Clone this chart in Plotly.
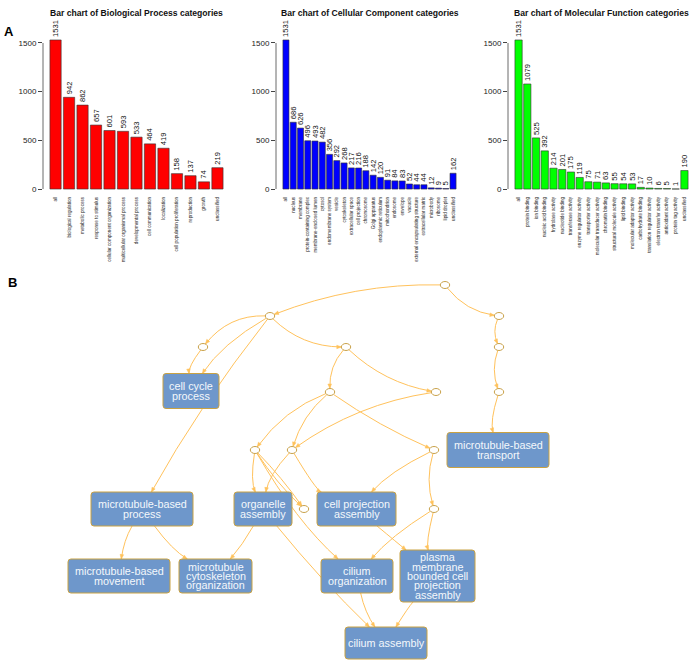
import math
import plotly.graph_objects as go

W, H = 697, 660

# ---- panel A: GO slim counts ----
bp_cats = ["all", "biological regulation", "metabolic process", "response to stimulus",
           "cellular component organization", "multicellular organismal process",
           "developmental process", "cell communication", "localization",
           "cell population proliferation", "reproduction", "growth", "unclassified"]
bp_vals = [1531, 942, 862, 657, 601, 593, 533, 464, 419, 158, 137, 74, 219]

cc_cats = ["all", "nucleus", "membrane", "protein-containing complex", "membrane-enclosed lumen",
           "cytosol", "endomembrane system", "vesicle", "cytoskeleton", "extracellular space",
           "cell projection", "chromosome", "Golgi apparatus", "endoplasmic reticulum",
           "mitochondrion", "endosome", "envelope", "vacuole",
           "external encapsulating structure", "extracellular matrix", "microbody",
           "ribosome", "lipid droplet", "unclassified"]
cc_vals = [1531, 686, 626, 496, 493, 482, 356, 292, 268, 217, 216, 188, 142, 120,
           91, 84, 83, 52, 44, 44, 12, 9, 5, 162]

mf_cats = ["all", "protein binding", "ion binding", "nucleic acid binding", "hydrolase activity",
           "nucleotide binding", "transferase activity", "enzyme regulator activity",
           "transporter activity", "molecular transducer activity", "chromatin binding",
           "structural molecule activity", "lipid binding", "molecular adaptor activity",
           "carbohydrate binding", "translation regulator activity",
           "electron transfer activity", "antioxidant activity", "protein tag activity",
           "unclassified"]
mf_vals = [1531, 1079, 525, 392, 214, 201, 175, 119, 75, 71, 63, 55, 54, 53, 17, 10, 6, 5, 1, 190]

# ---- panel B: GO term graph ----
node_labels = {
    "cc_proc": "cell cycle\nprocess",
    "mt_transport": "microtubule-based\ntransport",
    "mt_process": "microtubule-based\nprocess",
    "org_asm": "organelle\nassembly",
    "cp_asm": "cell projection\nassembly",
    "mt_move": "microtubule-based\nmovement",
    "mt_cyto": "microtubule\ncytoskeleton\norganization",
    "cil_org": "cilium\norganization",
    "pm_asm": "plasma\nmembrane\nbounded cell\nprojection\nassembly",
    "cil_asm": "cilium assembly",
}
edge_src = ["n0", "n0", "n4", "n5", "n8", "n1", "n2", "n1", "n1", "n1", "n3", "n3",
            "n6", "n6", "n6", "n7", "n11", "n11", "n9", "n10", "n10", "n9", "n9", "n9",
            "org_asm", "org_asm", "cil_org", "pm_asm", "n13", "n13", "cp_asm",
            "mt_process", "mt_process"]
edge_dst = ["n1", "n4", "n5", "n8", "mt_transport", "n2", "cc_proc", "cc_proc", "mt_process",
            "n3", "n6", "n7", "n9", "n10", "n11", "n10", "cp_asm", "n13", "org_asm",
            "org_asm", "cp_asm", "n12", "n12", "cil_org", "mt_cyto", "cil_asm", "cil_asm",
            "cil_asm", "cil_org", "pm_asm", "pm_asm", "mt_move", "mt_cyto"]

# layout of the graph drawing (page pixels), node sizes and edge bends
pos = {
    "n0": (445, 285), "n1": (270, 316), "n2": (203, 347), "n3": (346, 347),
    "n4": (499, 316), "n5": (499, 347), "n6": (330, 392), "n7": (436, 392),
    "n8": (499, 392), "n9": (255, 450), "n10": (292, 450), "n11": (434, 450),
    "n12": (304, 509), "n13": (434, 509),
    "cc_proc": (191, 391), "mt_transport": (498, 450), "mt_process": (142, 509),
    "org_asm": (263, 509), "cp_asm": (356.5, 509), "mt_move": (119, 576),
    "mt_cyto": (215.5, 576), "cil_org": (357, 576), "pm_asm": (437.5, 576),
    "cil_asm": (386, 643),
}
box_size = {
    "cc_proc": (56, 35), "mt_transport": (102, 35), "mt_process": (102, 34),
    "org_asm": (58, 34), "cp_asm": (79, 34), "mt_move": (102, 34), "mt_cyto": (73, 34),
    "cil_org": (72, 34), "pm_asm": (75, 52), "cil_asm": (82, 32),
}
edge_bend = [0.10, 0.20, 0.22, 0.18, 0.15, 0.25, 0.20, 0.12, 0.04, 0.20, 0.20, 0.15,
             0.15, 0.15, 0.05, 0.12, 0.10, 0.15, 0.15, 0.15, 0.15, 0.06, -0.04, 0.08,
             -0.05, 0.03, 0.10, 0.05, 0.08, 0.15, 0.0, 0.10, 0.10]

ERX, ERY = 4.7, 3.5
EDGE = "#FFC25C"
ELL_LINE = "#C9A24B"
BOX_FILL = "#6E97CB"
BOX_LINE = "#C9A243"
FONT = "Liberation Sans, Arial, sans-serif"
LINE_STEP = 9.3

fig = go.Figure()

# ---- bar panels ----
panels = [
    (bp_cats, bp_vals, "#FF0000", "Bar chart of Biological Process categories", 43),
    (cc_cats, cc_vals, "#0000FF", "Bar chart of Cellular Component categories", 276),
    (mf_cats, mf_vals, "#00FF00", "Bar chart of Molecular Function categories", 508),
]
plot_w = 187
y_dom = [1 - 195 / H, 1 - 34 / H]
shapes = []
annotations = []
for i, (cats, vals, col, title, left) in enumerate(panels):
    k = "" if i == 0 else str(i + 1)
    n = len(cats)
    span = n - 1 + 1 / 1.2
    pad = 0.04 * span
    half = 0.5 / 1.2
    fig.add_trace(go.Bar(
        x=cats, y=vals, xaxis="x" + k, yaxis="y" + k,
        marker=dict(color=col, line=dict(color="#333333", width=0.6)),
        text=vals, textposition="outside", textangle=-90,
        textfont=dict(size=7.6, color="#111111"),
        constraintext="none", cliponaxis=False, showlegend=False,
    ))
    xd = [left / W, (left + plot_w) / W]
    fig.layout["xaxis" + k] = dict(
        domain=xd, anchor="y" + k, type="category",
        range=[-half - pad, n - 1 + half + pad],
        tickangle=-90, tickfont=dict(size=4.6, color="#222222"),
        showgrid=False, zeroline=False, showline=False, ticks="",
    )
    fig.layout["yaxis" + k] = dict(
        domain=y_dom, anchor="x" + k, range=[-0.04 * 1531, 1.04 * 1531],
        tickvals=[0, 500, 1000, 1500], ticks="outside", ticklen=4,
        tickcolor="#444444", tickwidth=0.8, tickfont=dict(size=8, color="#222222"),
        showgrid=False, zeroline=False, showline=False,
    )
    shapes.append(dict(type="line", xref="x" + k + " domain", yref="y" + k,
                       x0=0, x1=0, y0=0, y1=1500,
                       line=dict(color="#444444", width=0.8)))
    annotations.append(dict(text="<b>" + title + "</b>", xref="paper", yref="paper",
                            x=(xd[0] + xd[1]) / 2, y=1 - 13 / H, showarrow=False,
                            xanchor="center", yanchor="middle",
                            font=dict(size=8.6, color="#111111")))


# ---- graph panel ----
def is_box(name):
    return name in box_size


def anchor(name, tx, ty):
    cx, cy = pos[name]
    dx, dy = tx - cx, ty - cy
    if is_box(name):
        hw, hh = box_size[name][0] / 2, box_size[name][1] / 2
        kk = 1 / max(abs(dx) / hw, abs(dy) / hh)
    else:
        kk = 1 / math.sqrt((dx / ERX) ** 2 + (dy / ERY) ** 2)
    return cx + dx * kk, cy + dy * kk


for a, b, bend in zip(edge_src, edge_dst, edge_bend):
    (x0, y0), (x1, y1) = pos[a], pos[b]
    dx, dy = x1 - x0, y1 - y0
    L = math.hypot(dx, dy)
    nx, ny = -dy / L, dx / L
    cx = (x0 + x1) / 2 + bend * L * nx
    cy = (y0 + y1) / 2 + bend * L * ny
    sx, sy = anchor(a, cx, cy)
    ex, ey = anchor(b, cx, cy)
    shapes.append(dict(type="path", xref="x4", yref="y4", layer="above",
                       path=f"M{sx:.2f},{sy:.2f} Q{cx:.2f},{cy:.2f} {ex:.2f},{ey:.2f}",
                       line=dict(color=EDGE, width=1)))
    ux, uy = ex - cx, ey - cy
    ul = math.hypot(ux, uy)
    ux, uy = ux / ul, uy / ul
    bx, by = ex - 4.5 * ux, ey - 4.5 * uy
    px, py = -uy * 1.8, ux * 1.8
    shapes.append(dict(type="path", xref="x4", yref="y4",
                       path=f"M{ex:.2f},{ey:.2f} L{bx + px:.2f},{by + py:.2f} "
                            f"L{bx - px:.2f},{by - py:.2f} Z",
                       fillcolor=EDGE, line=dict(color=EDGE, width=0.5)))

for name, (cx, cy) in pos.items():
    if is_box(name):
        w, h = box_size[name]
        r = 3
        xa, xb, ya, yb = cx - w / 2, cx + w / 2, cy - h / 2, cy + h / 2
        path = (f"M{xa + r},{ya} L{xb - r},{ya} Q{xb},{ya} {xb},{ya + r} "
                f"L{xb},{yb - r} Q{xb},{yb} {xb - r},{yb} L{xa + r},{yb} "
                f"Q{xa},{yb} {xa},{yb - r} L{xa},{ya + r} Q{xa},{ya} {xa + r},{ya} Z")
        shapes.append(dict(type="path", xref="x4", yref="y4", path=path,
                           fillcolor=BOX_FILL, line=dict(color=BOX_LINE, width=1)))
        lines = node_labels[name].split("\n")
        for j, t in enumerate(lines):
            annotations.append(dict(
                text=t, xref="x4", yref="y4", x=cx,
                y=cy + (j - (len(lines) - 1) / 2) * LINE_STEP,
                showarrow=False, xanchor="center", yanchor="middle",
                font=dict(family=FONT, size=10.8, color="#F4F7FB")))
    else:
        shapes.append(dict(type="circle", xref="x4", yref="y4",
                           x0=cx - ERX, x1=cx + ERX, y0=cy - ERY, y1=cy + ERY,
                           fillcolor="white", line=dict(color=ELL_LINE, width=1)))

annotations.append(dict(text="<b>A</b>", xref="paper", yref="paper", x=9 / W, y=1 - 31 / H,
                        showarrow=False, xanchor="center", yanchor="middle",
                        font=dict(size=13, color="black")))
annotations.append(dict(text="<b>B</b>", xref="paper", yref="paper", x=12 / W, y=1 - 283 / H,
                        showarrow=False, xanchor="center", yanchor="middle",
                        font=dict(size=13, color="black")))

fig.update_layout(
    width=W, height=H, margin=dict(l=0, r=0, t=0, b=0),
    paper_bgcolor="white", plot_bgcolor="rgba(0,0,0,0)",
    font=dict(family=FONT, color="#222222"),
    bargap=1 / 6, showlegend=False,
    xaxis4=dict(domain=[0, 1], range=[0, W], anchor="y4", visible=False),
    yaxis4=dict(domain=[0, 1], range=[H, 0], anchor="x4", visible=False),
    shapes=shapes, annotations=annotations,
)

fig.write_html("out.html", config={"displayModeBar": False},
               post_script="document.body.style.margin='0';")
